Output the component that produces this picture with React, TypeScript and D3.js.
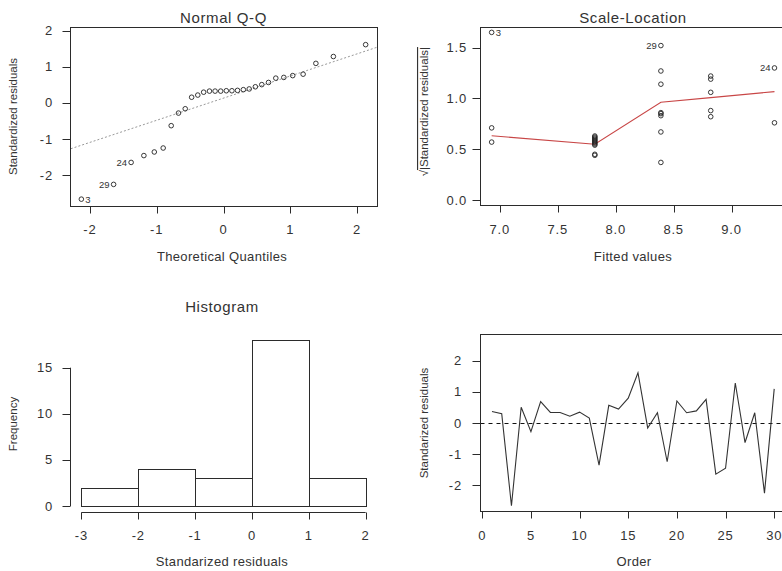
import React, { useEffect, useRef } from "react";
import * as d3 from "d3";

const residuals = [0.37, 0.3, -2.67, 0.51, -0.28, 0.69, 0.34, 0.34, 0.22, 0.35, 0.16, -1.36, 0.57, 0.45, 0.8,
  1.62, -0.16, 0.33, -1.25, 0.71, 0.33, 0.39, 0.76, -1.65, -1.46, 1.29, -0.63, 0.33, -2.26, 1.1];

// theoretical normal quantiles for the sorted residuals
const theoQuantiles = [-2.128, -1.645, -1.383, -1.192, -1.036, -0.903, -0.783, -0.674, -0.573, -0.477,
  -0.385, -0.297, -0.21, -0.126, -0.042, 0.042, 0.126, 0.21, 0.297, 0.385,
  0.477, 0.573, 0.674, 0.783, 0.903, 1.036, 1.192, 1.383, 1.645, 2.128];
const qqLineX = [-2.4, 2.4];
const qqLineY = [-1.34, 1.61];
const qqLabels = [
  { idx: 0, text: "3", side: "right" },
  { idx: 1, text: "29", side: "left" },
  { idx: 2, text: "24", side: "left" },
];

// scale-location: fitted value and sqrt(|std residual|)
const slFitted = [6.93, 6.93, 6.93,
  7.82, 7.82, 7.82, 7.82, 7.82, 7.82, 7.82, 7.82, 7.82, 7.82, 7.82, 7.82,
  8.39, 8.39, 8.39, 8.39, 8.39, 8.39, 8.39, 8.39,
  8.82, 8.82, 8.82, 8.82, 8.82,
  9.37, 9.37];
const slValues = [1.65, 0.71, 0.57,
  0.63, 0.62, 0.61, 0.6, 0.59, 0.58, 0.57, 0.56, 0.55, 0.54, 0.45, 0.44,
  1.52, 1.27, 1.14, 0.86, 0.85, 0.83, 0.67, 0.37,
  1.22, 1.19, 1.06, 0.88, 0.82,
  1.3, 0.76];
const slLabels = [
  { idx: 0, text: "3", side: "right" },
  { idx: 15, text: "29", side: "left" },
  { idx: 28, text: "24", side: "left" },
];
const smoothX = [6.93, 7.82, 8.39, 8.82, 9.37];
const smoothY = [0.632, 0.549, 0.962, 1.008, 1.067];

// axis tick values
const qqXTicks = [-2, -1, 0, 1, 2];
const qqYTicks = [-2, -1, 0, 1, 2];
const slXTicks = [7.0, 7.5, 8.0, 8.5, 9.0];
const slYTicks = [0.0, 0.5, 1.0, 1.5];
const histBreaks = [-3, -2, -1, 0, 1, 2];
const histYTicks = [0, 5, 10, 15];
const ordXTicks = [0, 5, 10, 15, 20, 25, 30];
const ordYTicks = [-2, -1, 0, 1, 2];

const FONT = "'Liberation Sans', Arial, Helvetica, sans-serif";
const INK = "#2b2b2b";

function App() {
  const svgRef = useRef(null);

  useEffect(() => {
    const svg = d3.select(svgRef.current);
    svg.selectAll("*").remove();
    svg.attr("font-family", FONT);

    const txt = (x, y, s, size, opts: any = {}) => {
      const t = svg
        .append("text")
        .attr("x", x)
        .attr("y", y)
        .attr("text-anchor", opts.anchor || "middle")
        .attr("font-size", size)
        .attr("fill", opts.fill || "#333")
        .style("letter-spacing", (opts.ls ?? 0) + "px")
        .text(s);
      if (opts.rotate) t.attr("transform", `rotate(-90,${x},${y})`);
      return t;
    };

    // R-like axes: ticks outward, labels
    const bottomAxis = (scale, ticks, yPos, labelY, fmt, line = false) => {
      const g = svg.append("g").attr("stroke", INK);
      ticks.forEach((v) => {
        g.append("line")
          .attr("x1", Math.round(scale(v)) + 0.5)
          .attr("x2", Math.round(scale(v)) + 0.5)
          .attr("y1", yPos)
          .attr("y2", yPos + 7);
        txt(scale(v), labelY, fmt(v), 13, { ls: 0.8 });
      });
      if (line)
        g.append("line")
          .attr("x1", scale(ticks[0]))
          .attr("x2", scale(ticks[ticks.length - 1]))
          .attr("y1", yPos)
          .attr("y2", yPos);
    };
    const leftAxis = (scale, ticks, xPos, labelX, fmt, line = false) => {
      const g = svg.append("g").attr("stroke", INK);
      ticks.forEach((v) => {
        g.append("line")
          .attr("x1", xPos - 8)
          .attr("x2", xPos)
          .attr("y1", Math.round(scale(v)) + 0.5)
          .attr("y2", Math.round(scale(v)) + 0.5);
        txt(labelX, scale(v) + 4.5, fmt(v), 13, { anchor: "end", ls: 0.8 });
      });
      if (line)
        g.append("line")
          .attr("x1", xPos)
          .attr("x2", xPos)
          .attr("y1", scale(ticks[0]))
          .attr("y2", scale(ticks[ticks.length - 1]));
    };
    const box = (x0, y0, x1, y1) =>
      svg
        .append("rect")
        .attr("x", x0)
        .attr("y", y0)
        .attr("width", x1 - x0)
        .attr("height", y1 - y0)
        .attr("fill", "none")
        .attr("stroke", INK);
    const points = (xs, ys, sx, sy) =>
      svg
        .append("g")
        .selectAll("circle")
        .data(xs)
        .join("circle")
        .attr("cx", (d) => sx(d))
        .attr("cy", (d, i) => sy(ys[i]))
        .attr("r", 2.3)
        .attr("fill", "none")
        .attr("stroke", "#222")
        .attr("stroke-width", 0.9);

    // ---------- Normal Q-Q ----------
    const qx = d3.scaleLinear().domain([-2.298, 2.298]).range([70, 377]);
    const qy = d3.scaleLinear().domain([-2.86, 2.11]).range([206, 27]);
    const sorted = residuals.slice().sort((a, b) => a - b);
    svg.append("clipPath").attr("id", "clipQQ").append("rect").attr("x", 70).attr("y", 27).attr("width", 307).attr("height", 179);
    svg
      .append("path")
      .attr("clip-path", "url(#clipQQ)")
      .attr("d", d3.line()(qqLineX.map((x, i) => [qx(x), qy(qqLineY[i])])))
      .attr("stroke", "#999")
      .attr("stroke-dasharray", "2,2")
      .attr("fill", "none");
    points(theoQuantiles, sorted, qx, qy);
    qqLabels.forEach((l) => {
      const x = qx(theoQuantiles[l.idx]);
      const y = qy(sorted[l.idx]) + 3.5;
      txt(l.side === "right" ? x + 4 : x - 4, y, l.text, 9.5, { anchor: l.side === "right" ? "start" : "end" });
    });
    box(70.5, 27.5, 377.5, 206.5);
    bottomAxis(qx, qqXTicks, 206.5, 233.5, (v) => String(v));
    leftAxis(qy, qqYTicks, 70.5, 53, (v) => String(v));
    txt(223.5, 22.7, "Normal Q-Q", 15, { ls: 0.6 });
    txt(222, 261, "Theoretical Quantiles", 13, { ls: 0.35 });
    txt(17, 116.5, "Standardized residuals", 11.5, { rotate: true });

    // ---------- Scale-Location ----------
    const sx = d3.scaleLinear().domain([6.832, 9.478]).range([480.3, 787]);
    const sy = d3.scaleLinear().domain([-0.056, 1.7]).range([205.7, 27.3]);
    svg
      .append("path")
      .attr("d", d3.line()(smoothX.map((x, i) => [sx(x), sy(smoothY[i])])))
      .attr("stroke", "#c84646")
      .attr("stroke-width", 1.1)
      .attr("fill", "none");
    points(slFitted, slValues, sx, sy);
    slLabels.forEach((l) => {
      const x = sx(slFitted[l.idx]);
      const y = sy(slValues[l.idx]) + 3.5;
      txt(l.side === "right" ? x + 4 : x - 4, y, l.text, 9.5, { anchor: l.side === "right" ? "start" : "end" });
    });
    box(480.5, 27.5, 790, 205.5);
    bottomAxis(sx, slXTicks, 205.5, 233.5, d3.format(".1f"));
    leftAxis(sy, slYTicks, 480.5, 467, d3.format(".1f"));
    txt(633, 23, "Scale-Location", 15, { ls: 0.6 });
    txt(633, 261, "Fitted values", 13, { ls: 0.35 });
    const yl = txt(428, 111.7, "", 11.5, { rotate: true });
    yl.append("tspan").text("√");
    yl.append("tspan").style("text-decoration", "overline").text("|Standardized residuals|");

    // ---------- Histogram ----------
    const hx = d3.scaleLinear().domain([-3.2, 2.2]).range([70, 377]);
    const hy = d3.scaleLinear().domain([-0.72, 18.72]).range([512.7, 333.4]);
    const bins = d3
      .bin()
      .domain([histBreaks[0], histBreaks[histBreaks.length - 1]])
      .thresholds(histBreaks.slice(1, -1))(residuals);
    svg
      .append("g")
      .selectAll("rect")
      .data(bins)
      .join("rect")
      .attr("x", (d) => Math.round(hx(d.x0)) + 0.5)
      .attr("width", (d) => Math.round(hx(d.x1)) - Math.round(hx(d.x0)))
      .attr("y", (d) => Math.round(hy(d.length)) + 0.5)
      .attr("height", (d) => Math.round(hy(0)) - Math.round(hy(d.length)))
      .attr("fill", "white")
      .attr("stroke", INK);
    bottomAxis(hx, histBreaks, 512.5, 540, (v) => String(v), true);
    leftAxis(hy, histYTicks, 70.5, 53, (v) => String(v), true);
    txt(222, 311.7, "Histogram", 15, { ls: 0.6 });
    txt(222, 566, "Standarized residuals", 13, { ls: 0.35 });
    txt(17, 424, "Frequency", 11.5, { rotate: true });

    // ---------- Order ----------
    const ox = d3.scaleLinear().domain([-0.16, 31.16]).range([480.7, 785.5]);
    const oy = d3.scaleLinear().domain([-2.86, 2.86]).range([511.7, 334.3]);
    svg
      .append("line")
      .attr("x1", 480.5)
      .attr("x2", 790)
      .attr("y1", Math.round(oy(0)) + 0.5)
      .attr("y2", Math.round(oy(0)) + 0.5)
      .attr("stroke", "#111")
      .attr("stroke-dasharray", "4,4");
    svg
      .append("path")
      .attr("d", d3.line()(residuals.map((r, i) => [ox(i + 1), oy(r)])))
      .attr("stroke", "#333")
      .attr("stroke-width", 1.1)
      .attr("fill", "none");
    box(480.5, 334.5, 790, 511.5);
    bottomAxis(ox, ordXTicks, 511.5, 540, (v) => String(v));
    leftAxis(oy, ordYTicks, 480.5, 462, (v) => String(v));
    txt(634, 566, "Order", 13, { ls: 0.35 });
    txt(428, 423, "Standarized residuals", 11.5, { rotate: true });
  }, []);

  return (
    <div style={{ position: "fixed", left: 0, top: 0, background: "white" }}>
      <svg ref={svgRef} width={782} height={571} style={{ display: "block" }}></svg>
    </div>
  );
}

export default App;
